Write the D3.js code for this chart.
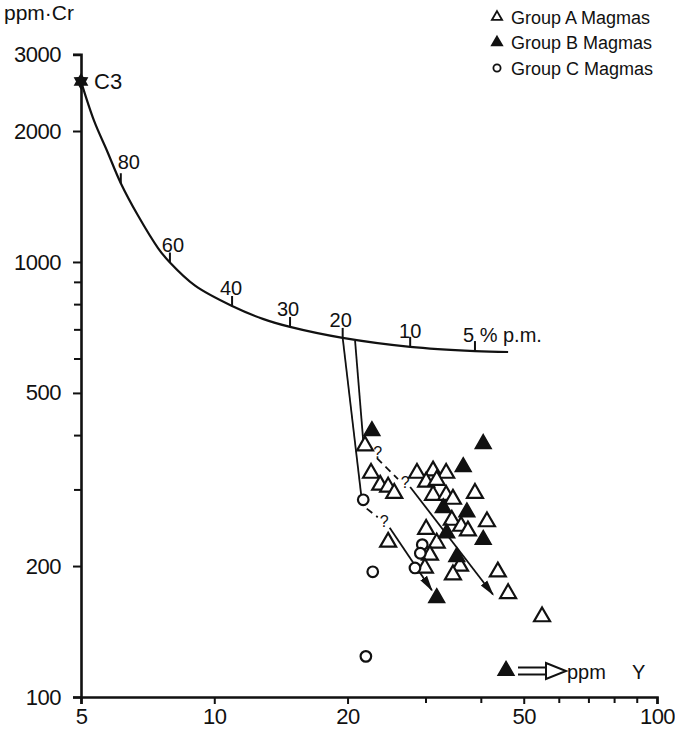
<!DOCTYPE html>
<html><head><meta charset="utf-8">
<script src="https://cdn.jsdelivr.net/npm/d3@7"></script>
<style>
body{margin:0;background:#fff;}
svg text{font-family:"Liberation Sans",Arial,sans-serif;fill:#111;}
</style></head><body>
<svg id="chart" width="675" height="734"></svg>
<script>
// ---------- data (Y ppm, Cr ppm) ----------
const groupA = [[21.9,378],[22.6,327],[23.7,307],[24.7,304],[25.5,294],[28.7,327],[31.2,331],[33.4,327],
  [30.1,312],[31.8,315],[31.2,291],[33.4,291],[34.6,285],[38.8,294],[34.4,255],[36.1,247],[37.4,241],
  [41.3,253],[30.1,243],[24.7,227],[31.8,226],[30.7,212],[35.9,200],[34.6,191],[29.9,198],[43.7,194],
  [46.1,173],[55.0,153]];
const groupB = [[22.7,409],[40.5,382],[36.5,338],[32.9,272],[37.2,266],[33.5,238],[40.5,230],[35.3,210],
  [31.8,169],[45.6,115]];
const groupC = [[21.7,284],[29.5,224],[29.2,214],[28.4,198],[22.8,194],[22.0,124]];
const c3 = [5, 2600];
const meltCurve = [[5,2600],[5.35,2112],[5.73,1797],[6.15,1517],[6.72,1280],[7.47,1075],[7.94,997],
  [9.05,882],[10.97,792],[12.87,740],[14.83,709],[19.5,669],[27.7,638],[38.8,624],[46.1,621]];
const meltTickLabels = ["80","60","40","30","20","10","5 % p.m."];
const meltTickPts = [[6.15,1517],[7.94,997],[10.97,792],[14.83,709],[19.5,669],[27.7,638],[38.8,624]];
const trendLines = [[[19.5,669],[21.5,288]],[[20.8,658],[21.7,388]]];
const arrowLines = [[[27.7,304],[42.6,172]],[[24.9,245],[31.0,176]]];
const dashedLines = [[[23.3,354],[26.0,317]],[[22.1,271],[23.4,259]]];
const queryMarks = [[23.4,366],[27.0,312],[24.2,254]];
const xTicks = [5,10,20,50,100];
const xMinor = [30,40,60,70,80,90];
const yTicks = [100,200,500,1000,2000,3000];
const yMinor = [300,400,600,700,800,900];
const legendLabels = ["Group A Magmas","Group B Magmas","Group C Magmas"];

// ---------- drawing ----------
const svg = d3.select("#chart");
const x = d3.scaleLog().domain([5,100]).range([81,657]);
const y = d3.scaleLog().domain([100,3000]).range([697,54.4]);
const ink = "#111";

// axes
svg.append("g").attr("transform","translate(0,697)")
  .call(d3.axisBottom(x).tickValues(xTicks).tickFormat(d3.format("d")).tickSize(7).tickPadding(4));
svg.append("g").attr("transform","translate(0,697)")
  .call(d3.axisBottom(x).tickValues(xMinor).tickFormat("").tickSize(6))
  .select(".domain").remove();
svg.append("g").attr("transform","translate(81,0)")
  .call(d3.axisLeft(y).tickValues(yTicks).tickFormat(d3.format("d")).tickSize(8).tickPadding(12));
svg.append("g").attr("transform","translate(81,0)")
  .call(d3.axisLeft(y).tickValues(yMinor).tickFormat("").tickSize(7))
  .select(".domain").remove();
svg.selectAll(".domain").attr("stroke",ink).attr("stroke-width",2.6);
svg.selectAll(".tick line").attr("stroke",ink).attr("stroke-width",2);
svg.selectAll(".tick text").attr("fill",ink).style("font-size","22px").style("letter-spacing","-0.5px");

// axis titles
svg.append("text").attr("x",4).attr("y",20).style("font-size","21px").text("ppm·Cr");
const yt = svg.append("text").attr("y",679).style("font-size","20px");
yt.append("tspan").attr("x",567).text("ppm");
yt.append("tspan").attr("x",632).text("Y");
// double arrow
const ag = svg.append("g").attr("stroke",ink).attr("stroke-width",2).attr("fill","none");
ag.append("line").attr("x1",518).attr("x2",548).attr("y1",667.5).attr("y2",667.5);
ag.append("line").attr("x1",518).attr("x2",548).attr("y1",674.5).attr("y2",674.5);
ag.append("path").attr("d","M546,663L566,671L546,679Z").attr("fill","#fff");

// melting curve
const line = d3.line().x(d=>x(d[0])).y(d=>y(d[1])).curve(d3.curveCatmullRom.alpha(0.5));
svg.append("path").datum(meltCurve).attr("d",line).attr("fill","none").attr("stroke",ink).attr("stroke-width",2.2);
// curve ticks + labels
const labOff = [[8,-14],[3,-11],[-1,-11],[-2,-11],[-2,-11],[0,-9],[0,-9]];
meltTickPts.forEach((p,i)=>{
  const px=x(p[0]), py=y(p[1]);
  svg.append("line").attr("x1",px).attr("x2",px).attr("y1",py).attr("y2",py-10).attr("stroke",ink).attr("stroke-width",2);
  const t = svg.append("text").attr("y",py+labOff[i][1]).style("font-size","20px").text(meltTickLabels[i]);
  if(i===6){ t.attr("x",px-12).attr("text-anchor","start"); }
  else { t.attr("x",px+labOff[i][0]).attr("text-anchor","middle"); }
});

// trend lines
const straight = d3.line().x(d=>x(d[0])).y(d=>y(d[1]));
svg.selectAll(".trend").data(trendLines).join("path").attr("d",straight)
  .attr("fill","none").attr("stroke",ink).attr("stroke-width",1.8);
svg.selectAll(".dash").data(dashedLines).join("path").attr("d",straight)
  .attr("fill","none").attr("stroke",ink).attr("stroke-width",1.8).attr("stroke-dasharray","7,5");
svg.append("defs").append("marker").attr("id","ah").attr("viewBox","0 0 10 10").attr("refX",9).attr("refY",5)
  .attr("markerWidth",9).attr("markerHeight",9).attr("orient","auto")
  .append("path").attr("d","M0,2.5L10,5L0,7.5Z").attr("fill",ink);
svg.selectAll(".arr").data(arrowLines).join("path").attr("d",straight)
  .attr("fill","none").attr("stroke",ink).attr("stroke-width",1.8).attr("marker-end","url(#ah)");
svg.selectAll(".q").data(queryMarks).join("text").attr("x",d=>x(d[0])).attr("y",d=>y(d[1])+6)
  .attr("text-anchor","middle").style("font-size","16px").text("?");

// points
const tri = d3.symbol(d3.symbolTriangle).size(110)();
svg.selectAll(".ga").data(groupA).join("path").attr("d",tri)
  .attr("transform",d=>`translate(${x(d[0])},${y(d[1])})`)
  .attr("fill","#fff").attr("stroke",ink).attr("stroke-width",2.2);
svg.selectAll(".gb").data(groupB).join("path").attr("d",tri)
  .attr("transform",d=>`translate(${x(d[0])},${y(d[1])})`)
  .attr("fill",ink).attr("stroke",ink).attr("stroke-width",1.5);
svg.selectAll(".gc").data(groupC).join("circle").attr("cx",d=>x(d[0])).attr("cy",d=>y(d[1])).attr("r",5.3)
  .attr("fill","#fff").attr("stroke",ink).attr("stroke-width",2.2);

// C3 star (6-pointed)
const starPts = d3.range(12).map(i=>{const a=i*Math.PI/6, r=i%2?5:8.5; return [r*Math.sin(a), -r*Math.cos(a)];});
svg.append("path").attr("d","M"+starPts.join("L")+"Z").attr("fill",ink)
  .attr("transform",`translate(${x(c3[0])},${y(c3[1])})`);
svg.append("text").attr("x",x(c3[0])+13).attr("y",y(c3[1])+8).style("font-size","22px").text("C3");

// legend
const lg = svg.append("g");
legendLabels.forEach((t,i)=>{
  const yy = 17+i*25.5;
  if(i<2){
    lg.append("path").attr("d",d3.symbol(d3.symbolTriangle).size(45)()).attr("transform",`translate(497,${yy})`)
      .attr("fill",i===0?"#fff":ink).attr("stroke",ink).attr("stroke-width",1.8);
  } else {
    lg.append("circle").attr("cx",497).attr("cy",yy).attr("r",3.6).attr("fill","#fff").attr("stroke",ink).attr("stroke-width",1.8);
  }
  lg.append("text").attr("x",511).attr("y",yy+6.5).style("font-size","18px").text(t);
});
</script>
</body></html>
